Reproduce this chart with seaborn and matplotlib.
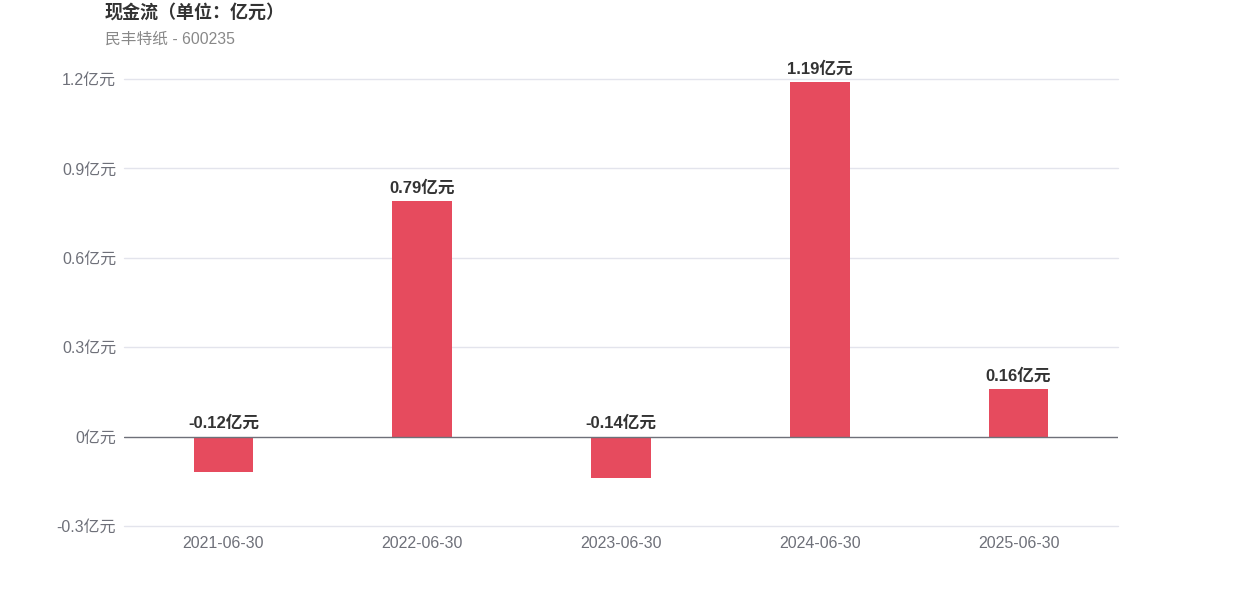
import matplotlib
matplotlib.use("Agg")
import matplotlib.pyplot as plt
import seaborn as sns
import pandas as pd

dates = ["2021-06-30", "2022-06-30", "2023-06-30", "2024-06-30", "2025-06-30"]
values = [-0.12, 0.79, -0.14, 1.19, 0.16]
yticks = [-0.3, 0, 0.3, 0.6, 0.9, 1.2]
ytick_labels = ["-0.3亿元", "0亿元", "0.3亿元", "0.6亿元", "0.9亿元", "1.2亿元"]
title = "现金流（单位：亿元）"
subtitle = "民丰特纸 - 600235"

sns.set_theme(style="white")
fams = ["Liberation Sans", "Noto Sans CJK SC", "DejaVu Sans"]
plt.rcParams["font.family"] = fams

df = pd.DataFrame({"date": dates, "value": values})

fig = plt.figure(figsize=(12.42, 5.96), dpi=100)
ax = fig.add_axes([124/1242, 1-526/596, (1118-124)/1242, (526-79)/596])

sns.barplot(data=df, x="date", y="value", color="#e64b5e", width=0.3,
            saturation=1, ax=ax, zorder=3, linewidth=0)

ax.set_ylim(-0.3, 1.2)
ax.set_xlim(-0.5, len(dates) - 0.5)
ax.set_yticks(yticks)
ax.set_yticklabels(ytick_labels)
for y in yticks:
    if y != 0:
        ax.axhline(y, color="#e3e4ec", lw=1, zorder=1, clip_on=False)
ax.axhline(0, color="#6e7079", lw=1, zorder=4)

for s in ax.spines.values():
    s.set_visible(False)
ax.tick_params(axis="both", length=0, labelsize=11.5, colors="#6e7079")
ax.tick_params(axis="y", pad=5.5)
ax.tick_params(axis="x", pad=7)
ax.set_xlabel("")
ax.set_ylabel("")

for i, v in enumerate(values):
    ytxt = max(v, 0)
    ax.annotate(f"{v:.2f}亿元", (i, ytxt), xytext=(0, 4), textcoords="offset points",
                ha="center", va="bottom", fontsize=12, fontweight="bold",
                color="#333333", zorder=5)

fig.text(105/1242, 1-13/596, title, fontsize=13, fontweight="bold", color="#333333",
         ha="left", va="center")
fig.text(105/1242, 1-39/596, subtitle, fontsize=11.3, color="#888888",
         ha="left", va="center")

fig.savefig("out.png", dpi=100)
